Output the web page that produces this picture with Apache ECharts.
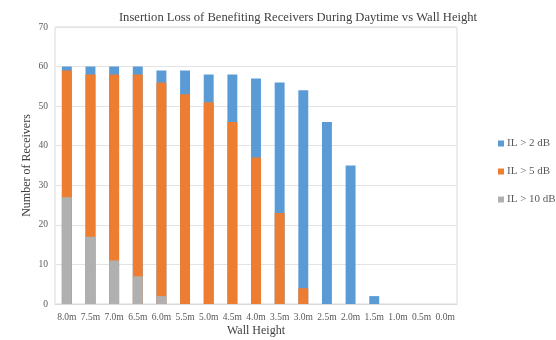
<!DOCTYPE html>
<html>
<head>
<meta charset="utf-8">
<script src="https://cdn.jsdelivr.net/npm/echarts@6/dist/echarts.min.js"></script>
<style>
  html, body { margin: 0; padding: 0; background: #fff; }
  #chart { width: 556px; height: 340px; }
</style>
</head>
<body>
<div id="chart"></div>
<script>
// wall heights
var heights = ['8.0m', '7.5m', '7.0m', '6.5m', '6.0m', '5.5m', '5.0m', '4.5m', '4.0m',
    '3.5m', '3.0m', '2.5m', '2.0m', '1.5m', '1.0m', '0.5m', '0.0m'];
// receivers per IL threshold
var il2 = [60, 60, 60, 60, 59, 59, 58, 58, 57, 56, 54, 46, 35, 2, 0, 0, 0];
var il5 = [59, 58, 58, 58, 56, 53, 51, 46, 37, 23, 4, 0, 0, 0, 0, 0, 0];
var il10 = [27, 17, 11, 7, 2, 0, 0, 0, 0, 0, 0, 0, 0, 0, 0, 0, 0];
var seriesNames = ['IL > 2 dB', 'IL > 5 dB', 'IL > 10 dB'];
var colors = ['#5B9BD5', '#ED7D31', '#B0B0B0'];

var font = 'Liberation Serif';
var chart = echarts.init(document.getElementById('chart'));

function makeBar(i, vals) {
    return {
        name: seriesNames[i],
        type: 'bar',
        data: vals,
        barWidth: '42%',
        barGap: '-100%',
        itemStyle: { color: colors[i] },
        z: 2 + i
    };
}

var option = {
    animation: false,
    color: colors,
    title: {
        text: 'Insertion Loss of Benefiting Receivers During Daytime vs Wall Height',
        left: 293,
        top: 6,
        textAlign: 'center',
        textStyle: { fontFamily: font, fontSize: 12.6, fontWeight: 'normal', color: '#404040' }
    },
    legend: {
        orient: 'vertical',
        left: 493,
        top: 133,
        itemWidth: 6,
        itemHeight: 6,
        itemGap: 17,
        icon: 'rect',
        textStyle: { fontFamily: font, fontSize: 11, color: '#595959', padding: [0, 0, 0, -2] },
        data: seriesNames
    },
    grid: { left: 55, right: 99, top: 27, bottom: 36, outerBoundsMode: 'none' },
    xAxis: {
        type: 'category',
        data: heights,
        name: 'Wall Height',
        nameLocation: 'middle',
        nameGap: 21,
        nameMoveOverlap: false,
        nameTextStyle: { fontFamily: font, fontSize: 12, color: '#404040' },
        axisTick: { show: false },
        axisLine: { lineStyle: { color: '#d9d9d9' } },
        axisLabel: { fontFamily: font, fontSize: 9.5, color: '#595959', interval: 0, margin: 8 }
    },
    yAxis: {
        type: 'value',
        min: 0,
        max: 70,
        interval: 10,
        name: 'Number of Receivers',
        nameLocation: 'middle',
        nameGap: 22,
        nameMoveOverlap: false,
        nameTextStyle: { fontFamily: font, fontSize: 12, color: '#404040' },
        axisLine: { show: false },
        axisTick: { show: false },
        axisLabel: { fontFamily: font, fontSize: 9.5, color: '#595959', margin: 7 },
        splitLine: { lineStyle: { color: '#e3e3e3' } }
    },
    graphic: [{
        type: 'rect',
        shape: { x: 55, y: 27, width: 402, height: 277 },
        style: { fill: 'none', stroke: '#d9d9d9', lineWidth: 1 },
        z: 0
    }],
    series: [makeBar(0, il2), makeBar(1, il5), makeBar(2, il10)]
};

chart.setOption(option);
</script>
</body>
</html>
